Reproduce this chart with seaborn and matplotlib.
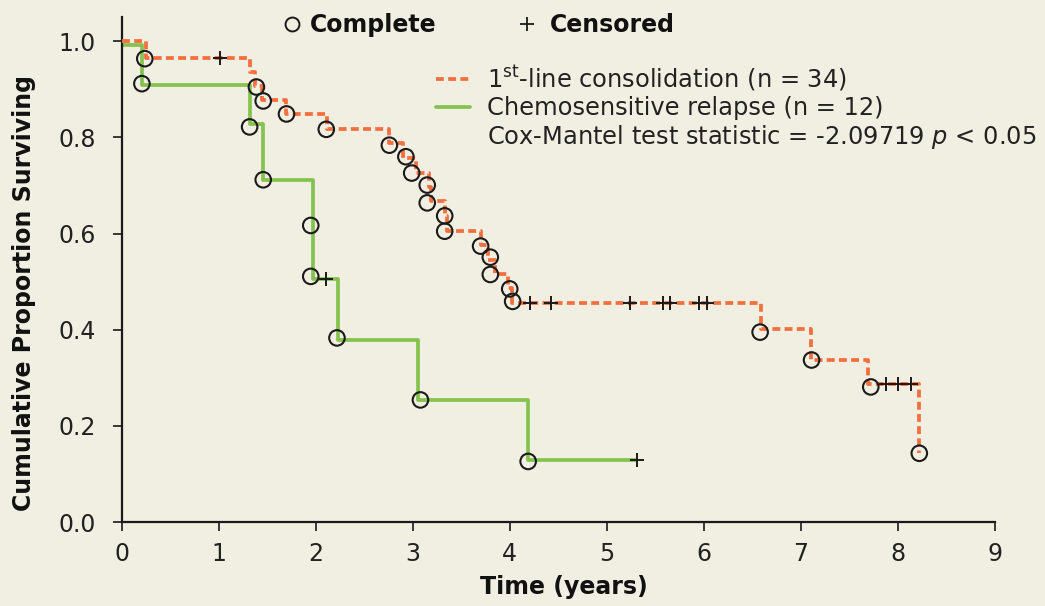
import matplotlib
matplotlib.use("Agg")
import matplotlib.pyplot as plt
from matplotlib.lines import Line2D
import seaborn as sns
import pandas as pd

# ---------------- data ----------------
# 1st-line consolidation (n = 34): step curve
cons_t = [0.0, 0.25, 1.32, 1.38, 1.45, 1.70, 2.12, 2.76, 2.90, 3.03, 3.17, 3.19,
          3.33, 3.35, 3.70, 3.78, 3.85, 3.98, 4.02, 6.59, 7.10, 7.69, 8.22]
cons_s = [1.0, 0.966, 0.937, 0.907, 0.877, 0.848, 0.818, 0.788, 0.757, 0.727, 0.697, 0.667,
          0.636, 0.606, 0.576, 0.546, 0.516, 0.486, 0.456, 0.401, 0.338, 0.288, 0.143]
cons_done_t = [0.24, 1.39, 1.46, 1.70, 2.11, 2.76, 2.93, 2.99, 3.15, 3.15, 3.33, 3.33,
               3.70, 3.80, 3.80, 4.00, 4.03, 6.58, 7.11, 7.72, 8.22]
cons_done_s = [0.964, 0.905, 0.876, 0.849, 0.817, 0.784, 0.760, 0.726, 0.701, 0.664, 0.637, 0.605,
               0.574, 0.551, 0.515, 0.485, 0.459, 0.395, 0.337, 0.281, 0.143]
cons_cens_t = [1.01, 4.21, 4.43, 5.24, 5.58, 5.65, 5.95, 6.03, 7.88, 8.00, 8.13]
cons_cens_s = [0.966, 0.456, 0.456, 0.456, 0.456, 0.456, 0.456, 0.456, 0.288, 0.288, 0.288]

# Chemosensitive relapse (n = 12): step curve
rel_t = [0.0, 0.21, 1.32, 1.46, 1.97, 2.23, 3.05, 4.19, 5.30]
rel_s = [0.992, 0.910, 0.828, 0.712, 0.506, 0.379, 0.253, 0.128, 0.128]
rel_done_t = [0.21, 1.32, 1.46, 1.95, 1.95, 2.22, 3.08, 4.19]
rel_done_s = [0.912, 0.822, 0.712, 0.617, 0.511, 0.383, 0.254, 0.126]
rel_cens_t = [2.11, 5.31]
rel_cens_s = [0.506, 0.128]

x_ticks = [0, 1, 2, 3, 4, 5, 6, 7, 8, 9]
y_ticks = [0.0, 0.2, 0.4, 0.6, 0.8, 1.0]

label_cons = "1$^{\\mathrm{st}}$-line consolidation (n = 34)"
label_rel = "Chemosensitive relapse (n = 12)"
label_test = "Cox-Mantel test statistic = -2.09719 $p$ < 0.05"

# ---------------- style ----------------
BG = "#F1EEE2"
ORANGE = "#F36F3E"
GREEN = "#86C24F"
DASH = (0, (2.1, 1.15))
LW = 2.7

sns.set_theme(style="ticks")
plt.rcParams["font.family"] = ["DejaVu Sans"]
plt.rcParams["mathtext.fontset"] = "dejavusans"

fig = plt.figure(figsize=(10.45, 6.06), dpi=100, facecolor=BG)
W, H = 1045, 606
ax = fig.add_axes([121.5 / W, 1 - 522 / H, (995 - 121.5) / W, (522 - 17) / H])
ax.set_facecolor(BG)

df_cons = pd.DataFrame({"t": cons_t, "s": cons_s})
df_rel = pd.DataFrame({"t": rel_t, "s": rel_s})

sns.lineplot(data=df_rel, x="t", y="s", drawstyle="steps-post", estimator=None, sort=False,
             color=GREEN, linewidth=LW, ax=ax, zorder=2)
sns.lineplot(data=df_cons, x="t", y="s", drawstyle="steps-post", estimator=None, sort=False,
             color=ORANGE, linewidth=LW, linestyle=DASH, ax=ax, zorder=3)

sns.scatterplot(x=cons_done_t + rel_done_t, y=cons_done_s + rel_done_s, marker="o", s=125,
                facecolor="none", edgecolor="#1a1a1a", linewidth=1.5, ax=ax, zorder=4)
sns.scatterplot(x=cons_cens_t + rel_cens_t, y=cons_cens_s + rel_cens_s, marker="+", s=110,
                color="#1a1a1a", linewidth=1.4, ax=ax, zorder=4)

ax.set_xlim(0, 9)
ax.set_ylim(0, 1.0507)
ax.set_xticks(x_ticks)
ax.set_yticks(y_ticks)
ax.set_yticklabels([f"{v:.1f}" for v in y_ticks])
for side in ("top", "right"):
    ax.spines[side].set_visible(False)
for side in ("left", "bottom"):
    ax.spines[side].set_linewidth(1.6)
    ax.spines[side].set_color("#1a1a1a")
ax.tick_params(axis="both", direction="out", length=6.5, width=1.2, colors="#1a1a1a",
               labelsize=17, labelcolor="#222222")
ax.tick_params(axis="x", pad=8)
ax.tick_params(axis="y", pad=12)

ax.set_xlabel("Time (years)", fontsize=17, fontweight="bold", color="#111111")
ax.set_ylabel("Cumulative Proportion Surviving", fontsize=17, fontweight="bold", color="#111111")
ax.xaxis.set_label_coords((564 - 121.5) / 873.5, -0.105)
ax.yaxis.set_label_coords(-0.098, (522 - 293) / 505)

# right legend
h1 = Line2D([], [], color=ORANGE, linewidth=LW, linestyle=DASH)
h2 = Line2D([], [], color=GREEN, linewidth=LW)
h3 = Line2D([], [], alpha=0)
leg1 = fig.legend(handles=[h1, h2, h3], labels=[label_cons, label_rel, label_test],
                  loc="upper left", bbox_to_anchor=(436 / W, 1 - 64 / H), frameon=False,
                  fontsize=17.4, handlelength=1.4, handletextpad=0.72, labelspacing=0.12,
                  borderpad=0, borderaxespad=0)
for t in leg1.get_texts():
    t.set_color("#222222")

# top legend (two single-entry legends)
m1 = Line2D([], [], marker="o", linestyle="", markerfacecolor="none", markeredgecolor="#1a1a1a",
            markersize=10, markeredgewidth=1.4)
m2 = Line2D([], [], marker="+", linestyle="", color="#1a1a1a", markersize=10, markeredgewidth=1.3)
leg2 = fig.legend(handles=[m1], labels=["Complete"], loc="center left",
                  bbox_to_anchor=(283 / W, 1 - 25 / H), frameon=False,
                  prop={"size": 17, "weight": "bold"}, handlelength=0.75, handletextpad=0.4,
                  borderpad=0, borderaxespad=0)
leg3 = fig.legend(handles=[m2], labels=["Censored"], loc="center left",
                  bbox_to_anchor=(518 / W, 1 - 25 / H), frameon=False,
                  prop={"size": 17, "weight": "bold"}, handlelength=0.75, handletextpad=0.62,
                  borderpad=0, borderaxespad=0)
for lg in (leg2, leg3):
    for t in lg.get_texts():
        t.set_color("#111111")

fig.savefig("out.png", dpi=100, facecolor=BG)
